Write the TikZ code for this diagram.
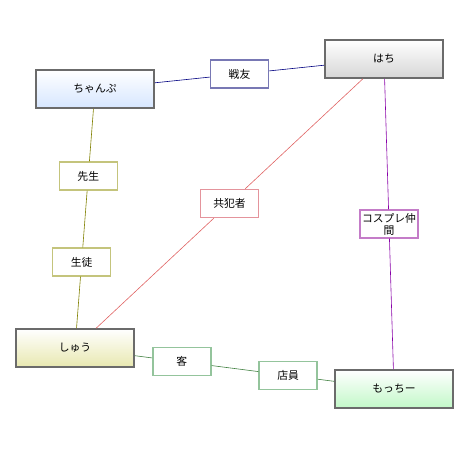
\documentclass[tikz,border=0pt]{standalone}
\usepackage{fontspec}
\newfontfamily\jpfont{Noto Sans CJK JP}
\usetikzlibrary{calc}

\definecolor{champblue}{HTML}{D6E6FF}
\definecolor{hachigray}{HTML}{D6D6D6}
\definecolor{shuuyellow}{HTML}{E8E8B0}
\definecolor{mocchigreen}{HTML}{C2F8C8}
\definecolor{senyuline}{HTML}{000080}
\definecolor{senyubox}{HTML}{7878B4}
\definecolor{teacherline}{HTML}{808000}
\definecolor{teacherbox}{HTML}{C4C47C}
\definecolor{partnerline}{HTML}{E06464}
\definecolor{partnerbox}{HTML}{E4949C}
\definecolor{cosline}{HTML}{8800A8}
\definecolor{cosbox}{HTML}{C47CC8}
\definecolor{shopline}{HTML}{408040}
\definecolor{shopbox}{HTML}{94C49C}

\begin{document}
\begin{tikzpicture}[x=1pt, y=-1pt,
  every node/.style={font=\jpfont\fontsize{10.8}{12}\selectfont},
  person/.style={rectangle, draw=black!58, line width=1.7pt, minimum width=118pt, minimum height=38pt, top color=white},
  rel/.style={rectangle, fill=white, line width=1.4pt, minimum width=58pt, minimum height=28pt, inner sep=1pt, align=center},
  link/.style={line width=0.6pt}]

% fixed page size
\useasboundingbox (0,0) rectangle (470,450);

% Characters
\node[person, bottom color=champblue] (champ) at (95,89) {ちゃんぷ};
\node[person, bottom color=hachigray] (hachi) at (384,59) {はち};
\node[person, bottom color=shuuyellow] (shuu) at (75,348) {しゅう};
\node[person, bottom color=mocchigreen] (mocchi) at (394,389) {もっちー};

% Relations placed along the lines between characters
\node[rel, draw=senyubox] (senyu) at ($(champ)!0.5!(hachi)$) {戦友};
\node[rel, draw=teacherbox] (sensei) at ($(champ)!0.336!(shuu)$) {先生};
\node[rel, draw=teacherbox] (seito) at ($(champ)!0.668!(shuu)$) {生徒};
\node[rel, draw=partnerbox] (kyohan) at ($(hachi)!0.5!(shuu)$) {共犯者};
\node[rel, draw=cosbox] (cosplay) at ($(hachi)!0.5!(mocchi)$) {コスプレ仲\\間};
\node[rel, draw=shopbox] (kyaku) at ($(shuu)!0.335!(mocchi)$) {客};
\node[rel, draw=shopbox] (tenin) at ($(shuu)!0.668!(mocchi)$) {店員};

% Connectors
\draw[link, senyuline] (champ) -- (senyu) -- (hachi);
\draw[link, teacherline] (champ) -- (sensei) -- (seito) -- (shuu);
\draw[link, partnerline] (hachi) -- (kyohan) -- (shuu);
\draw[link, cosline] (hachi) -- (cosplay) -- (mocchi);
\draw[link, shopline] (shuu) -- (kyaku) -- (tenin) -- (mocchi);
\end{tikzpicture}
\end{document}
